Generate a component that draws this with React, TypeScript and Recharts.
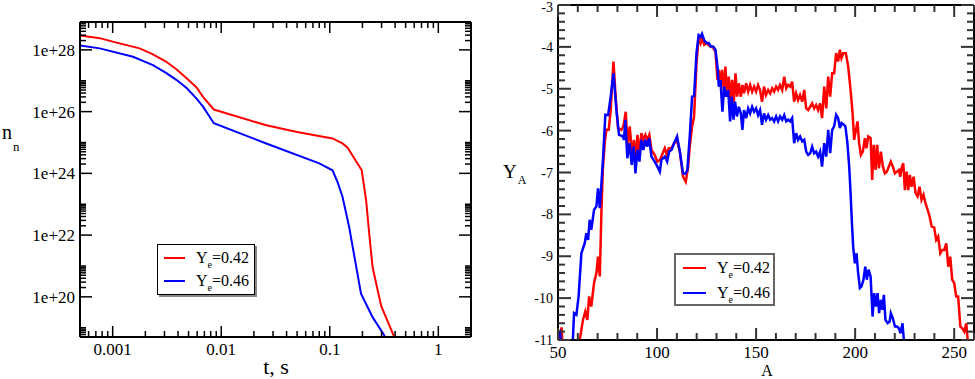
import React from "react";
import { LineChart, Line, XAxis, YAxis, ReferenceLine, Legend } from "recharts";

const FONT = '"Liberation Serif", "Times New Roman", serif';

// left panel: neutron density n_n vs time t (s)
const RED_T = [5e-4, 7.6e-4, 1.0e-3, 1.77e-3, 2.35e-3, 3.1e-3, 3.86e-3, 4.8e-3, 5.9e-3, 6.8e-3, 8.55e-3, 0.026, 0.05, 0.106, 0.131, 0.146, 0.197, 0.216, 0.231, 0.248, 0.297, 0.387, 0.45];
const RED_N = [2.9e28, 2.4e28, 1.85e28, 1.12e28, 7.2e27, 4.2e27, 2.35e27, 1.2e27, 6.2e26, 3.0e26, 1.17e26, 3.6e25, 2.2e25, 1.35e25, 9.3e24, 6.8e24, 1.26e24, 1.35e23, 1.1e22, 9.1e20, 5.2e19, 5.6e18, 1.5e18];
const BLUE_T = [5e-4, 7.6e-4, 1.54e-3, 2.35e-3, 3.1e-3, 3.86e-3, 4.8e-3, 5.9e-3, 6.8e-3, 8.55e-3, 0.026, 0.08, 0.106, 0.118, 0.131, 0.151, 0.194, 0.248, 0.318, 0.37];
const BLUE_N = [1.38e28, 1.12e28, 6.0e27, 3.2e27, 1.8e27, 1.07e27, 5.8e26, 2.7e26, 1.45e26, 4.2e25, 9.3e24, 2.1e24, 1.26e24, 5.2e23, 1.74e23, 1.8e22, 1.26e20, 2.2e19, 5.6e18, 1.5e18];

// right panel: abundance log Y_A vs mass number A
const RED_A = [50, 51, 51.8, 52.5, 60, 61, 62.6, 63.8, 64.8, 65.7, 66.8, 68.2, 69.4, 70.2, 71.1, 71.9, 72.7, 73.6, 74.4, 75.6, 76.6, 78, 79.1, 80.3, 82, 83, 84.2, 85.2, 86.2, 87.4, 88.4, 89.2, 90.1, 91.1, 92.1, 93.1, 94.1, 95.1, 96.1, 97.2, 98.8, 100.2, 101.5, 102.5, 103.9, 104.9, 105.9, 107.3, 108.6, 110, 111.5, 113.1, 114.5, 115.7, 116.5, 117.7, 118.7, 119.9, 121, 122, 122.7, 123.8, 124.9, 126.5, 128.3, 129.5, 130.5, 131.2, 132, 132.8, 133.7, 134.5, 135.4, 136.2, 137, 137.9, 138.7, 139.6, 140.4, 141.3, 142.3, 143.1, 143.9, 145, 146, 147, 148, 149, 150, 151, 152, 153, 154, 155, 156.1, 157.1, 158.1, 159.1, 160.1, 161.1, 162.1, 163.2, 164.2, 165.2, 166.2, 167.2, 168.2, 169.2, 170.2, 171.2, 172.2, 173.3, 174.3, 175.3, 176.3, 177.3, 178.3, 179.3, 180.3, 181.3, 182.3, 183.3, 184.4, 185.4, 186.4, 187.4, 188.4, 189.4, 190.4, 191.4, 192.3, 193.1, 194, 195.3, 196.5, 197.7, 198.7, 199.5, 200.4, 201.2, 202, 202.9, 203.9, 204.9, 205.7, 206.6, 207.8, 208.6, 209.4, 210.3, 211.1, 212, 213, 214, 215, 216, 217, 218, 219, 220.1, 221.1, 222.1, 222.8, 223.4, 224.3, 225.1, 226, 226.8, 227.6, 228.5, 229.5, 230.5, 231.5, 232.5, 233.5, 234.5, 235.5, 236.6, 237.6, 238.6, 239.9, 240.9, 241.9, 243, 244, 245, 246, 247, 248, 249, 250, 251, 252, 253.1, 254.1, 255.1, 256.1, 256.8, 258];
const RED_Y = [-11.2, -10.9, -10.7, -11.3, -11.6, -11.0, -10.52, -10.32, -10.52, -9.96, -10.2, -9.64, -9.4, -9.01, -9.48, -7.97, -6.86, -6.3, -5.98, -5.98, -5.51, -4.35, -5.19, -5.94, -5.98, -5.9, -5.55, -6.38, -5.9, -6.54, -6.22, -6.78, -6.1, -6.54, -6.06, -6.22, -6.1, -6.22, -6.1, -6.46, -6.58, -6.74, -6.7, -6.58, -6.42, -6.58, -6.42, -6.42, -6.3, -6.22, -6.5, -7.1, -7.22, -6.86, -6.38, -5.9, -5.66, -4.4, -3.76, -3.91, -3.79, -3.95, -3.91, -3.98, -4.02, -4.11, -4.79, -4.55, -4.95, -4.55, -5.03, -4.47, -5.19, -4.71, -5.27, -4.79, -5.35, -4.63, -5.19, -4.87, -5.19, -4.91, -5.11, -4.87, -5.07, -4.91, -5.07, -4.95, -5.07, -4.91, -5.03, -5.31, -4.95, -5.15, -5.03, -5.11, -4.99, -5.07, -4.95, -5.03, -4.91, -5.03, -4.71, -4.99, -4.91, -4.95, -4.83, -5.31, -5.11, -5.27, -5.15, -5.31, -5.03, -5.47, -5.51, -5.43, -5.35, -5.47, -5.39, -5.51, -5.35, -5.7, -4.95, -5.47, -4.71, -5.19, -4.63, -4.63, -4.15, -4.35, -4.07, -4.27, -4.15, -4.15, -4.47, -5.03, -5.58, -6.22, -5.98, -5.78, -6.3, -6.58, -6.5, -6.18, -6.42, -6.14, -6.18, -7.18, -6.34, -6.94, -6.34, -6.9, -6.5, -6.86, -7.02, -6.98, -6.86, -6.74, -6.86, -7.02, -6.98, -6.94, -7.1, -6.9, -6.78, -7.42, -6.98, -7.42, -7.06, -7.34, -7.1, -7.49, -7.57, -7.34, -7.65, -7.53, -7.73, -7.89, -8.05, -8.29, -8.31, -8.61, -8.53, -8.93, -8.85, -8.85, -8.69, -9.25, -9.01, -9.56, -9.64, -9.96, -9.96, -10.68, -10.72, -10.8, -10.6, -11.0, -11.4];
const BLUE_A = [50, 51, 52, 57, 57.6, 58.1, 59.3, 60.4, 61.8, 63.5, 64.3, 65.2, 66, 66.8, 68.2, 69.4, 70.2, 71.1, 72.7, 73.9, 75.3, 76.6, 78, 79.5, 80.8, 82.5, 83.3, 84, 85, 86.2, 87.2, 88.2, 89.1, 90.1, 91.1, 92.1, 93.1, 94.1, 95.1, 96, 97.2, 98.8, 100.2, 101.4, 102.2, 103.9, 105.1, 106.1, 107.3, 108.6, 110.1, 111.5, 113.1, 114.3, 115.3, 116.5, 117.7, 118.7, 119.9, 121, 122, 122.7, 123.8, 124.9, 126.1, 127.1, 128.3, 129.5, 130.5, 131.2, 132, 133, 133.9, 134.9, 135.9, 136.9, 137.7, 138.6, 139.4, 140.3, 141.3, 142.3, 143.1, 143.9, 145, 146, 147, 148, 149, 150, 151, 152, 153, 154, 155, 156.1, 157.1, 158.1, 159.1, 160.1, 161.1, 162.1, 163.2, 164.2, 165.2, 166.2, 167.2, 168.2, 169.2, 170.2, 171.2, 172.2, 173.3, 174.3, 175.3, 176.3, 177.3, 178.3, 179.3, 180.3, 181.3, 182.3, 183.3, 184.4, 185.4, 186.4, 187.4, 188.4, 189.4, 190.4, 191.4, 192.3, 193.1, 194.3, 195.1, 196.1, 197, 197.7, 198.3, 199, 199.85, 200.7, 201.5, 202.4, 203.2, 204.2, 205.1, 205.9, 206.8, 207.8, 208.8, 209.6, 210.5, 211.3, 212.1, 213, 213.8, 214.5, 215.3, 216.4, 217.4, 218, 219, 220.1, 221.1, 222.1, 222.9, 223.9, 224.6, 225.5];
const BLUE_Y = [-10.85, -10.8, -11.3, -11.3, -10.9, -10.36, -10.4, -9.96, -8.93, -8.69, -8.45, -8.61, -8.13, -8.37, -7.89, -7.81, -7.38, -7.85, -6.7, -5.62, -5.63, -5.19, -4.63, -5.51, -6.1, -6.13, -6.22, -5.74, -6.66, -6.3, -6.82, -6.38, -7.02, -6.46, -6.74, -6.22, -6.46, -6.22, -6.38, -6.18, -6.62, -6.74, -6.86, -6.98, -6.7, -6.62, -6.74, -6.5, -6.46, -6.3, -6.14, -6.5, -7.02, -7.03, -6.94, -6.14, -5.19, -5.17, -4.15, -3.72, -3.76, -3.69, -3.84, -3.91, -3.91, -3.99, -3.99, -4.07, -4.47, -4.95, -4.79, -5.55, -4.95, -5.19, -5.03, -5.78, -5.19, -5.74, -5.31, -5.66, -5.43, -5.59, -5.98, -5.51, -5.7, -5.47, -5.59, -5.43, -5.55, -5.47, -5.63, -5.51, -5.86, -5.59, -5.74, -5.63, -5.74, -5.7, -5.78, -5.66, -5.78, -5.66, -5.74, -5.63, -5.78, -5.74, -5.78, -5.7, -6.3, -6.06, -6.22, -6.14, -6.26, -6.22, -6.5, -6.58, -6.54, -6.38, -6.54, -6.5, -6.62, -6.5, -6.86, -6.3, -6.62, -5.98, -6.54, -5.98, -5.9, -5.62, -5.7, -5.94, -5.82, -5.86, -5.9, -6.3, -6.86, -7.49, -8.13, -8.77, -9.17, -8.93, -9.4, -9.76, -9.72, -9.56, -9.25, -9.56, -9.32, -9.48, -10.44, -9.88, -10.2, -9.88, -10.36, -10.04, -10.28, -9.92, -10.52, -10.6, -10.56, -10.36, -10.48, -10.68, -10.68, -10.72, -10.84, -10.6, -11.0, -11.4];

const YE_LABELS = ["0.42", "0.46"];
const COLORS = ["#ff0000", "#0000ff"];

const T_MAJOR = [0.001, 0.01, 0.1, 1];
const N_MAJOR = [1e20, 1e22, 1e24, 1e26, 1e28];
const A_MAJOR = [50, 100, 150, 200, 250];
const Y_MAJOR = [-11, -10, -9, -8, -7, -6, -5, -4, -3];

const T_DOMAIN = [5e-4, 2];
const N_DOMAIN = [5e18, 8e28];
const A_DOMAIN = [50, 260];
const Y_DOMAIN = [-11, -3];

const redTime = RED_T.map((t, i) => ({ t, n: RED_N[i] }));
const blueTime = BLUE_T.map((t, i) => ({ t, n: BLUE_N[i] }));
const redMass = RED_A.map((a, i) => ({ a, y: RED_Y[i] }));
const blueMass = BLUE_A.map((a, i) => ({ a, y: BLUE_Y[i] }));

// tick positions
const inRange = (v: number, d: number[]) => v >= d[0] * (1 - 1e-9) && v <= d[1] * (1 + 1e-9);
const tTicks: number[] = [];
for (let e = -4; e <= 0; e++) for (let k = 1; k <= 9; k++) {
  const v = parseFloat((k * Math.pow(10, e)).toPrecision(6));
  if (inRange(v, T_DOMAIN)) tTicks.push(v);
}
const nTicks: number[] = [];
for (let e = 18; e <= 28; e += 2) for (let k = 1; k <= 10; k++) {
  const v = parseFloat((k * Math.pow(10, e)).toPrecision(6));
  if (inRange(v, N_DOMAIN) && !nTicks.includes(v)) nTicks.push(v);
}
const aTicks: number[] = [];
for (let v = 50; v <= 260; v += 10) aTicks.push(v);
const yTicks: number[] = [];
for (let i = 0; i <= 40; i++) yTicks.push(Math.round((-11 + i * 0.2) * 10) / 10);

const isMajor = (v: number, majors: number[]) =>
  majors.some((m) => Math.abs(m - v) <= Math.abs(m) * 1e-6 + 1e-9);

type TickCfg = {
  majors: number[];
  span: number;
  big: number;
  small: number;
  fmt: (v: number) => string;
  fontSize: number;
  labelOff: number;
  minY?: number;
  color: string;
  w: number;
};

const XTick = (props: any) => {
  const { x, y, payload, cfg } = props;
  const c = cfg as TickCfg;
  const v = payload.value;
  const major = isMajor(v, c.majors);
  const len = major ? c.big : c.small;
  return (
    <g>
      <line x1={x} x2={x} y1={y} y2={y - len} stroke={c.color} strokeWidth={c.w} />
      <line x1={x} x2={x} y1={y - c.span} y2={y - c.span + len} stroke={c.color} strokeWidth={c.w} />
      {major && (
        <text x={x} y={y + c.labelOff} textAnchor="middle" style={{ fontFamily: FONT, fontSize: c.fontSize }} fill="#000">
          {c.fmt(v)}
        </text>
      )}
    </g>
  );
};

const YTick = (props: any) => {
  const { x, y, payload, cfg } = props;
  const c = cfg as TickCfg;
  const v = payload.value;
  const major = isMajor(v, c.majors);
  const len = major ? c.big : c.small;
  const ty = Math.max(y + c.labelOff, c.minY ?? 0);
  return (
    <g>
      <line x1={x} x2={x + len} y1={y} y2={y} stroke={c.color} strokeWidth={c.w} />
      <line x1={x + c.span} x2={x + c.span - len} y1={y} y2={y} stroke={c.color} strokeWidth={c.w} />
      {major && (
        <text x={x - 5} y={ty} textAnchor="end" style={{ fontFamily: FONT, fontSize: c.fontSize }} fill="#000">
          {c.fmt(v)}
        </text>
      )}
    </g>
  );
};

const YeLegend = ({ rowGap, lineX, lineLen, textX, boxStyle, w, h }: any) => (
  <div style={{ position: "relative", width: w, height: h, boxSizing: "border-box", background: "#fff", ...boxStyle }}>
    {YE_LABELS.map((lab, i) => (
      <div key={lab} style={{ position: "absolute", left: 0, top: 13 + i * rowGap - 10, height: 20, width: "100%" }}>
        <div style={{ position: "absolute", left: lineX, top: 9, width: lineLen, height: 2, background: COLORS[i] }} />
        <div style={{ position: "absolute", left: textX, top: 0, fontFamily: FONT, fontSize: 16, lineHeight: "20px", whiteSpace: "nowrap", color: "#000" }}>
          Y<span style={{ fontSize: 10, position: "relative", top: 5 }}>e</span>={lab}
        </div>
      </div>
    ))}
  </div>
);

const LeftTitles = () => (
  <g fill="#000">
    <text x={2} y={139} style={{ fontFamily: FONT, fontSize: 20 }}>
      n<tspan dx={1} dy={12} style={{ fontSize: 13 }}>n</tspan>
    </text>
    <text x={276} y={374} textAnchor="middle" style={{ fontFamily: FONT, fontSize: 22 }}>t, s</text>
  </g>
);

const RightTitles = () => (
  <g fill="#000">
    <text x={13} y={178} style={{ fontFamily: FONT, fontSize: 19 }}>
      Y<tspan dx={1} dy={6} style={{ fontSize: 12 }}>A</tspan>
    </text>
    <text x={277} y={376} textAnchor="middle" style={{ fontFamily: FONT, fontSize: 16 }}>A</text>
  </g>
);

const App = () => {
  const leftX: TickCfg = { majors: T_MAJOR, span: 315, big: 11, small: 6, fmt: (v) => String(v), fontSize: 17, labelOff: 18, color: "#000", w: 1.5 };
  const leftY: TickCfg = { majors: N_MAJOR, span: 391, big: 12, small: 6, fmt: (v) => `1e+${Math.round(Math.log10(v))}`, fontSize: 17, labelOff: 6, color: "#000", w: 1.5 };
  const rightX: TickCfg = { majors: A_MAJOR, span: 335, big: 12, small: 7, fmt: (v) => String(v), fontSize: 17, labelOff: 18, color: "#333", w: 2 };
  const rightY: TickCfg = { majors: Y_MAJOR, span: 416, big: 13, small: 7, fmt: (v) => String(v), fontSize: 14, labelOff: 5, minY: 12, color: "#333", w: 2 };

  return (
    <div style={{ position: "absolute", left: 0, top: 0, width: 975, height: 379, background: "#fff", overflow: "hidden", fontFamily: FONT }}>
      <div style={{ position: "absolute", left: 0, top: 0 }}>
        <LineChart width={490} height={379} margin={{ top: 22, left: 79, right: 19, bottom: 41 }} style={{ fontFamily: FONT }}>
          <XAxis
            dataKey="t"
            type="number"
            scale="log"
            domain={T_DOMAIN}
            allowDataOverflow
            ticks={tTicks}
            interval={0}
            height={1}
            tickSize={0}
            tickMargin={0}
            tickLine={false}
            axisLine={{ stroke: "#000", strokeWidth: 2 }}
            tick={(p: any) => <XTick {...p} cfg={leftX} />}
            label={<LeftTitles />}
          />
          <YAxis
            dataKey="n"
            type="number"
            scale="log"
            domain={N_DOMAIN}
            allowDataOverflow
            ticks={nTicks}
            interval={0}
            width={1}
            tickSize={0}
            tickMargin={0}
            tickLine={false}
            axisLine={{ stroke: "#000", strokeWidth: 2 }}
            tick={(p: any) => <YTick {...p} cfg={leftY} />}
          />
          <ReferenceLine x={T_DOMAIN[1]} stroke="#000" strokeWidth={2} />
          <ReferenceLine y={N_DOMAIN[1]} stroke="#000" strokeWidth={2} />
          <Line data={redTime} dataKey="n" stroke={COLORS[0]} strokeWidth={2} dot={false} isAnimationActive={false} type="linear" />
          <Line data={blueTime} dataKey="n" stroke={COLORS[1]} strokeWidth={2} dot={false} isAnimationActive={false} type="linear" />
          <Legend
            layout="horizontal"
            verticalAlign="middle"
            align="center"
            wrapperStyle={{ left: 157, top: 244, width: 98, height: 51 }}
            content={() => (
              <YeLegend rowGap={23.3} lineX={6} lineLen={21} textX={38} w={98} h={51}
                boxStyle={{ border: "1px solid #000", boxShadow: "2px 2px 0 #888" }} />
            )}
          />
        </LineChart>
      </div>
      <div style={{ position: "absolute", left: 490, top: 0 }}>
        <LineChart width={485} height={379} margin={{ top: 5, left: 67, right: 1, bottom: 38 }} style={{ fontFamily: FONT }}>
          <XAxis
            dataKey="a"
            type="number"
            domain={A_DOMAIN}
            allowDataOverflow
            ticks={aTicks}
            interval={0}
            height={1}
            tickSize={0}
            tickMargin={0}
            tickLine={false}
            axisLine={{ stroke: "#000", strokeWidth: 2 }}
            tick={(p: any) => <XTick {...p} cfg={rightX} />}
            label={<RightTitles />}
          />
          <YAxis
            dataKey="y"
            type="number"
            domain={Y_DOMAIN}
            allowDataOverflow
            ticks={yTicks}
            interval={0}
            width={1}
            tickSize={0}
            tickMargin={0}
            tickLine={false}
            axisLine={{ stroke: "#000", strokeWidth: 2 }}
            tick={(p: any) => <YTick {...p} cfg={rightY} />}
          />
          <ReferenceLine x={A_DOMAIN[1]} stroke="#000" strokeWidth={2} />
          <ReferenceLine y={Y_DOMAIN[1]} stroke="#000" strokeWidth={2} />
          <Line data={redMass} dataKey="y" stroke={COLORS[0]} strokeWidth={2.5} dot={false} isAnimationActive={false} type="linear" />
          <Line data={blueMass} dataKey="y" stroke={COLORS[1]} strokeWidth={2.5} dot={false} isAnimationActive={false} type="linear" />
          <Legend
            layout="horizontal"
            verticalAlign="middle"
            align="center"
            wrapperStyle={{ left: 184, top: 253, width: 101, height: 53 }}
            content={() => (
              <YeLegend rowGap={25.3} lineX={7} lineLen={23} textX={41} w={101} h={53}
                boxStyle={{ border: "2px solid #666" }} />
            )}
          />
        </LineChart>
      </div>
    </div>
  );
};

export default App;
